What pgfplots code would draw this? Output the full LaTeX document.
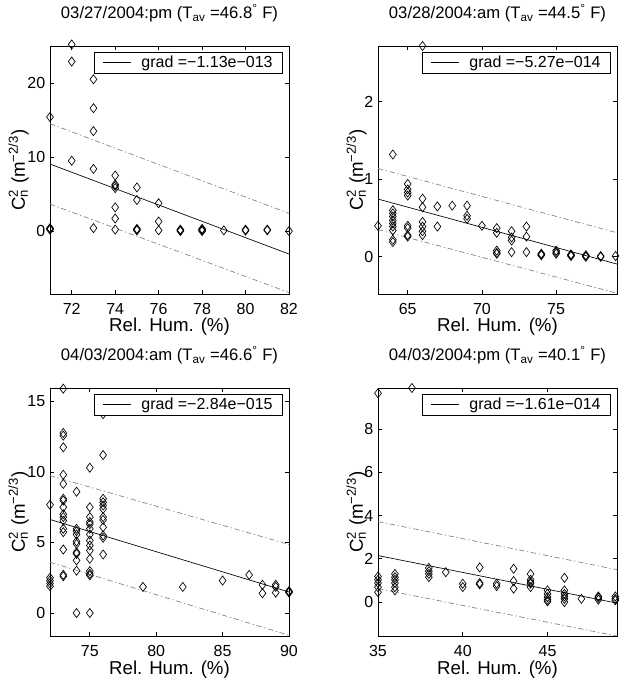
\documentclass[border=0pt]{standalone}
\usepackage{fontspec}
\setmainfont{Liberation Sans}
\usepackage{pgfplots}
\pgfplotsset{compat=1.18}
\newcommand{\fs}{\fontsize{12}{14}\selectfont}
\newcommand{\fl}{\fontsize{14}{17}\selectfont}
\newcommand{\ft}{\fontsize{12.5}{15}\selectfont}
\pgfplotsset{
  myaxis/.style={
    scale only axis, width=179.25pt, height=186pt,
    anchor=south west,
    axis line style={black, line width=0.6pt},
    tick align=inside, major tick length=3pt,
    every tick/.style={black, line width=0.5pt},
    /pgf/number format/assume math mode=true,
    ticklabel style={font=\fs},
    xticklabel style={yshift=-3.5pt},
    label style={font=\fl},
    title style={font=\ft, at={(0.5,1)}, anchor=base, yshift=14.5pt},
    xlabel={Rel. Hum. (\%)},
    xlabel style={at={(axis description cs:0.5,0)}, anchor=base, yshift=-28.5pt},
    ylabel={C\rlap{\textsubscript{n}}\textsuperscript{2} (m\textsuperscript{−2/3})},
    clip=false,
    legend style={at={(1,1)}, anchor=north east, xshift=-4.5pt, yshift=-4.5pt, draw=black, line width=0.5pt, font=\fs, inner xsep=6pt, inner ysep=1.2pt, nodes={inner sep=1.5pt}},
    legend cell align=left,
    legend image code/.code={\draw[black, line width=0.5pt] (0pt,0pt) -- (21pt,0pt); \path (27pt,0pt);},
  },
  conf/.style={gray, line width=0.5pt, dash pattern=on 4pt off 2pt on 1pt off 2pt, forget plot},
  reg/.style={black, line width=0.5pt},
  pts/.style={only marks, mark=diamond, mark size=3.4pt, black, mark options={line width=0.5pt, fill=none, solid}, forget plot},
}
\begin{document}
\begin{tikzpicture}
\path[use as bounding box] (0,0) rectangle (470.25pt,509.25pt);
% Panel 1
\begin{axis}[myaxis, at={(37.5pt,288.75pt)},
  xmin=71, xmax=82, ymin=-8.5, ymax=25,
  xtick={72,74,76,78,80,82}, ytick={0,10,20},
  ylabel style={at={(axis description cs:-0.105,0.5)}, anchor=base},
  title={03/27/2004:pm (T\textsubscript{av} =46.8\textsuperscript{°} F)}]
\addplot[pts] coordinates {
(71,15.4) (71,0.3) (71,0.2) (71,0.4)
(72,25.2) (72,22.9) (72,9.5)
(73,20.5) (73,16.6) (73,13.5) (73,8.4) (73,0.4)
(74,7.5) (74,6.3) (74,6.1) (74,5.8) (74,3.2) (74,1.7) (74,0.2)
(75,5.9) (75,4.2) (75,0.3) (75,0.1) (75,0.2)
(76,3.75) (76,1.3) (76,0.1)
(77,0.2) (77,0.0) (77,0.1)
(78,0.1) (78,0.3) (78,0.2) (78,0.0)
(79,0.1)
(80,0.2) (80,0.05)
(81,0.1) (81,0.2)
(82,0.0)};
\addplot[conf] coordinates {(71,14.5) (82,2.4)};
\addplot[conf] coordinates {(71,3.65) (82,-8.3)};
\addplot[reg] coordinates {(71,9.05) (82,-3.1)};
\addlegendentry{grad =−1.13e−013}
\end{axis}
% Panel 2
\begin{axis}[myaxis, at={(283.5pt,288.75pt)},
  xmin=63, xmax=79.1, ymin=-0.48, ymax=2.72,
  xtick={65,70,75}, ytick={0,1,2},
  ylabel style={at={(axis description cs:-0.063,0.5)}, anchor=base},
  title={03/28/2004:am (T\textsubscript{av} =44.5\textsuperscript{°} F)}]
\addplot[pts] coordinates {
(63,0.40)
(64,1.32) (64,0.60) (64,0.56) (64,0.52) (64,0.47) (64,0.43) (64,0.39) (64,0.34) (64,0.22) (64,0.19)
(65,0.94) (65,0.87) (65,0.83) (65,0.79) (65,0.40) (65,0.37) (65,0.28) (65,0.26)
(66,2.72) (66,0.75) (66,0.64) (66,0.45) (66,0.39) (66,0.33) (66,0.28)
(67,0.65) (67,0.39)
(68,0.66)
(69,0.66) (69,0.53) (69,0.49)
(70,0.40)
(71,0.37) (71,0.31) (71,0.08) (71,0.05) (71,0.04)
(72,0.33) (72,0.25) (72,0.21) (72,0.06)
(73,0.39) (73,0.26) (73,0.06)
(74,0.04) (74,0.03) (74,0.02)
(75,0.08) (75,0.06) (75,0.04)
(76,0.03) (76,0.02) (76,0.01)
(77,0.02) (77,0.01) (77,0.0)
(78,0.01) (78,0.0)
(79,0.01)};
\addplot[conf] coordinates {(63,1.14) (79.1,0.31)};
\addplot[conf] coordinates {(63,0.35) (79.1,-0.47)};
\addplot[reg] coordinates {(63,0.745) (79.1,-0.094)};
\addlegendentry{grad =−5.27e−014}
\end{axis}
% Panel 3
\begin{axis}[myaxis, at={(37.5pt,32.25pt)},
  xmin=72, xmax=90, ymin=-1.63, ymax=15.95,
  xtick={75,80,85,90}, ytick={0,5,10,15},
  ylabel style={at={(axis description cs:-0.105,0.5)}, anchor=base},
  title={04/03/2004:am (T\textsubscript{av} =46.6\textsuperscript{°} F)}]
\addplot[pts] coordinates {
(72,7.67) (72,2.5) (72,2.3) (72,2.1) (72,1.9)
(73,15.9) (73,12.76) (73,12.57) (73,11.75) (73,9.8) (73,9.15) (73,8.1) (73,7.97) (73,7.5) (73,7.0) (73,6.8) (73,6.55) (73,5.97) (73,5.73) (73,4.5) (73,2.71) (73,2.6)
(74,8.6) (74,5.97) (74,5.8) (74,5.57) (74,5.07) (74,4.9) (74,4.3) (74,4.2) (74,3.73) (74,3.0) (74,0)
(75,10.3) (75,7.5) (75,6.8) (75,6.45) (75,6.3) (75,5.97) (75,5.57) (75,5.14) (75,4.79) (75,4.43) (75,3.84) (75,2.97) (75,2.78) (75,2.67) (75,0)
(76,14.1) (76,11.2) (76,8.1) (76,7.85) (76,7.62) (76,7.38) (76,6.8) (76,6.6) (76,6.08) (76,5.5) (76,5.33) (76,4.15)
(79,1.85) (82,1.85) (85,2.3) (87,2.7) (88,2.0) (88,1.4) (89,2.0) (89,1.85) (89,1.45) (90,1.55) (90,1.45) (90,1.5)};
\addplot[conf] coordinates {(72,9.74) (90,4.86)};
\addplot[conf] coordinates {(72,3.6) (90,-1.58)};
\addplot[reg] coordinates {(72,6.63) (90,1.49)};
\addlegendentry{grad =−2.84e−015}
\end{axis}
% Panel 4
\begin{axis}[myaxis, at={(283.5pt,32.25pt)},
  xmin=35, xmax=49.1, ymin=-1.57, ymax=9.9,
  xtick={35,40,45}, ytick={0,2,4,6,8},
  ylabel style={at={(axis description cs:-0.063,0.5)}, anchor=base},
  title={04/03/2004:pm (T\textsubscript{av} =40.1\textsuperscript{°} F)}]
\addplot[pts] coordinates {
(35,9.66) (35,1.18) (35,1.03) (35,0.88) (35,0.69) (35,0.46)
(36,1.3) (36,1.15) (36,1.03) (36,0.88) (36,0.69) (36,0.54)
(37,9.9)
(38,1.58) (38,1.43) (38,1.3) (38,1.15)
(39,1.38)
(40,0.85) (40,0.69)
(41,1.6) (41,0.88) (41,0.82)
(42,0.85) (42,0.74)
(43,1.54) (43,0.97) (43,0.62)
(44,1.3) (44,1.03) (44,0.92) (44,0.85) (44,0.69)
(45,0.54) (45,0.38) (45,0.23) (45,0.11) (45,0.03)
(46,1.12) (46,0.54) (46,0.38) (46,0.26) (46,0.15) (46,0.0)
(47,0.15)
(48,0.26) (48,0.2) (48,0.11)
(49,0.26) (49,0.15) (49,0.08)};
\addplot[conf] coordinates {(35,3.72) (49.1,1.5)};
\addplot[conf] coordinates {(35,0.62) (49.1,-1.57)};
\addplot[reg] coordinates {(35,2.15) (49.1,-0.05)};
\addlegendentry{grad =−1.61e−014}
\end{axis}
\end{tikzpicture}
\end{document}
